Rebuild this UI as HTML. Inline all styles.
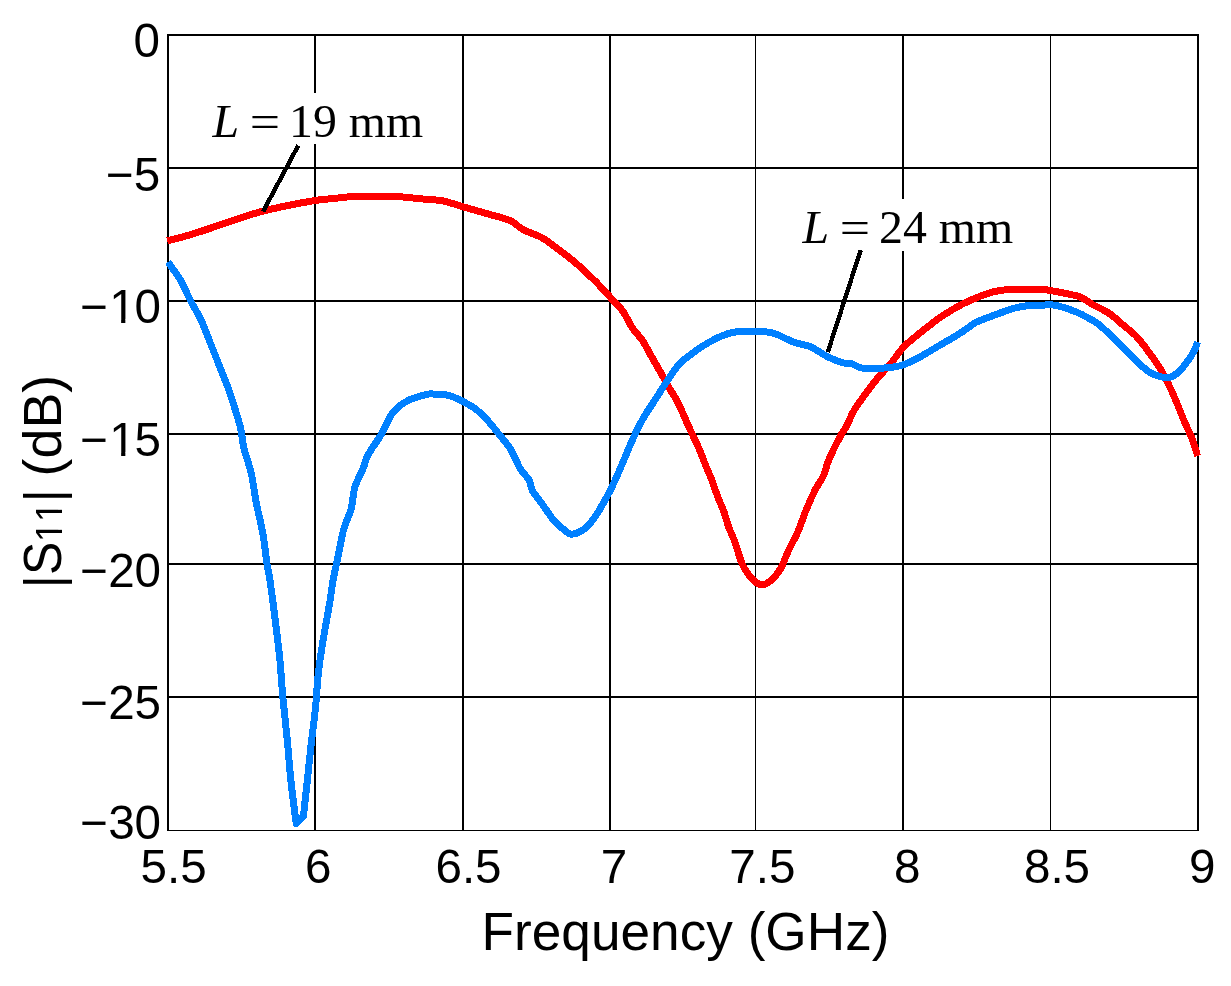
<!DOCTYPE html>
<html><head><meta charset="utf-8"><title>S11 vs Frequency</title>
<style>
html,body{margin:0;padding:0;background:#fff;}
body{width:1231px;height:986px;overflow:hidden;}
svg{display:block}
.tk{font-kerning:none;font-family:"Liberation Sans",sans-serif;font-size:47.6px;fill:#000}
.ax{font-kerning:none;font-family:"Liberation Sans",sans-serif;font-size:53.8px;fill:#000}
.lb{font-family:"Liberation Serif",serif;font-size:46px;fill:#000}
</style></head><body>
<svg width="1231" height="986" viewBox="0 0 1231 986">
<rect width="1231" height="986" fill="#fff"/>
<g fill="#000" shape-rendering="crispEdges">
<rect x="167" y="34" width="2" height="797"/>
<rect x="314" y="34" width="2" height="797"/>
<rect x="462" y="34" width="2" height="797"/>
<rect x="609" y="34" width="2" height="797"/>
<rect x="755" y="34" width="1" height="797"/>
<rect x="902" y="34" width="2" height="797"/>
<rect x="1050" y="34" width="1" height="797"/>
<rect x="1197" y="34" width="2" height="797"/>
<rect x="167" y="34" width="1032" height="2"/>
<rect x="167" y="167" width="1032" height="2"/>
<rect x="167" y="300" width="1032" height="2"/>
<rect x="167" y="433" width="1032" height="2"/>
<rect x="167" y="563" width="1032" height="2"/>
<rect x="167" y="696" width="1032" height="2"/>
<rect x="167" y="830" width="1032" height="1"/>
</g>
<rect x="205" y="93" width="225" height="51" fill="#fff"/>
<rect x="795" y="199" width="225" height="52" fill="#fff"/>
<g fill="none" stroke-linejoin="round" stroke-linecap="butt" stroke-width="7" shape-rendering="crispEdges">
<path stroke="#ff0000" d="M167.3,240.9C171.0,239.9 181.1,237.5 189.2,235.1C197.3,232.7 207.1,229.3 216.0,226.3C224.9,223.3 235.2,219.8 242.9,217.3C250.6,214.8 255.1,213.1 262.4,211.2C269.7,209.3 277.9,207.6 286.7,205.8C295.5,204.0 306.9,201.8 315.0,200.5C323.1,199.2 328.8,199.0 335.5,198.3C342.2,197.6 348.4,196.7 355.0,196.3C361.6,195.9 368.5,196.1 375.0,196.1C381.5,196.1 386.0,195.8 394.0,196.3C402.0,196.8 415.1,198.2 423.2,199.0C431.3,199.8 436.0,199.6 442.7,200.9C449.4,202.2 455.5,204.6 463.2,206.8C470.9,209.0 480.8,211.8 488.7,214.1C496.6,216.4 505.0,218.3 510.7,220.9C516.4,223.5 517.6,226.7 522.9,229.5C528.2,232.3 536.3,234.6 542.4,238.0C548.5,241.4 553.7,245.9 559.4,250.2C565.1,254.5 570.4,258.3 576.5,263.6C582.6,268.9 590.3,276.2 596.0,281.9C601.7,287.6 606.1,292.8 610.6,297.7C615.1,302.6 619.1,306.0 622.8,311.1C626.4,316.2 629.2,323.3 632.5,328.2C635.8,333.1 639.0,335.4 642.3,340.3C645.5,345.2 648.8,351.7 652.0,357.4C655.2,363.1 658.9,369.4 661.8,374.5C664.6,379.6 666.5,383.3 669.1,387.9C671.7,392.5 674.4,395.5 677.6,401.9C680.9,408.3 685.2,418.8 688.6,426.3C692.0,433.8 695.5,440.5 698.3,447.0C701.1,453.5 703.4,459.8 705.6,465.3C707.8,470.8 709.7,474.6 711.7,479.9C713.7,485.2 715.8,491.7 717.8,497.0C719.8,502.3 722.1,506.5 723.9,511.6C725.7,516.7 727.0,522.5 728.8,527.4C730.6,532.3 732.4,535.3 734.6,541.3C736.8,547.3 739.5,557.6 741.9,563.3C744.3,569.0 746.8,572.2 749.2,575.5C751.7,578.8 754.2,581.3 756.6,582.8C759.0,584.3 761.3,585.1 763.9,584.5C766.5,583.9 769.6,581.8 772.4,579.1C775.2,576.4 778.3,572.9 780.9,568.2C783.5,563.5 785.4,557.2 788.2,551.1C791.1,545.0 795.1,538.1 798.0,531.6C800.9,525.1 802.5,519.0 805.3,512.1C808.1,505.2 812.0,496.3 815.0,490.2C818.0,484.1 821.4,480.4 823.6,475.5C825.8,470.6 825.8,467.1 828.4,460.9C831.0,454.6 836.3,443.9 839.4,438.0C842.5,432.1 844.3,430.3 846.7,425.7C849.1,421.1 850.8,415.9 854.0,410.5C857.2,405.1 862.1,398.6 866.2,393.0C870.3,387.4 874.3,382.1 878.4,377.2C882.5,372.3 886.5,368.7 890.6,363.8C894.7,358.9 898.7,352.4 902.8,347.9C906.9,343.4 910.9,340.4 915.0,337.0C919.1,333.6 922.7,330.6 927.2,327.2C931.7,323.8 936.5,319.8 941.8,316.3C947.1,312.8 953.1,309.1 958.8,306.0C964.5,302.9 970.2,300.4 975.9,298.0C981.6,295.6 987.5,293.3 993.0,291.9C998.5,290.5 1003.5,289.9 1009.0,289.5C1014.5,289.1 1020.3,289.3 1026.0,289.3C1031.7,289.3 1037.8,289.1 1043.1,289.5C1048.4,289.9 1051.6,290.7 1057.7,291.9C1063.8,293.1 1074.0,294.8 1079.7,296.8C1085.4,298.8 1088.4,302.2 1091.8,304.1C1095.2,306.0 1096.8,306.4 1100.0,308.2C1103.2,309.9 1107.0,311.7 1110.9,314.6C1114.9,317.5 1119.4,321.9 1123.7,325.5C1128.0,329.1 1132.5,332.4 1136.5,336.5C1140.5,340.6 1143.8,345.3 1147.4,350.2C1151.1,355.1 1155.1,360.4 1158.4,365.7C1161.8,371.0 1164.5,376.0 1167.5,382.1C1170.5,388.2 1173.9,395.8 1176.6,402.2C1179.3,408.6 1181.3,414.3 1183.9,420.4C1186.5,426.5 1189.8,432.8 1192.1,438.7C1194.4,444.6 1196.7,453.1 1197.6,456.0"/>
<path stroke="#0080ff" d="M168.0,261.9C170.1,265.0 176.9,274.2 180.7,280.6C184.4,287.1 187.1,293.9 190.5,300.6C193.9,307.3 198.0,313.4 201.4,320.8C204.8,328.2 207.9,337.1 211.2,345.2C214.4,353.3 218.0,362.1 220.9,369.6C223.8,377.1 225.6,380.5 228.8,390.0C232.0,399.5 237.7,416.9 240.2,426.6C242.7,436.4 242.1,440.8 243.9,448.5C245.7,456.2 249.2,464.0 251.2,472.9C253.2,481.8 254.2,492.0 256.1,502.1C258.1,512.2 261.1,523.5 262.9,533.8C264.7,544.1 265.8,556.1 267.0,563.8C268.2,571.5 268.5,570.5 269.9,580.0C271.3,589.5 273.6,607.0 275.3,620.5C277.0,634.0 278.8,648.4 280.0,661.1C281.2,673.9 281.6,683.5 282.8,697.0C284.1,710.5 286.2,728.4 287.5,742.2C288.8,756.0 289.4,766.2 290.8,779.7C292.2,793.2 296.2,823.5 296.2,823.5C296.2,823.5 303.4,816.5 303.4,816.5C303.4,816.5 306.4,788.7 307.4,779.7C308.4,770.7 308.5,768.6 309.2,762.4C309.9,756.1 310.6,749.0 311.4,742.2C312.2,735.5 313.0,729.4 313.9,721.9C314.8,714.4 315.9,703.8 316.5,697.0C317.1,690.2 316.9,687.4 317.5,681.4C318.1,675.4 319.0,667.9 319.9,661.1C320.8,654.3 321.9,647.6 323.0,640.8C324.1,634.0 325.4,627.2 326.6,620.5C327.8,613.8 329.0,607.0 330.1,600.3C331.2,593.5 332.0,586.1 333.1,580.0C334.2,573.9 334.7,572.3 336.5,563.8C338.3,555.3 341.4,538.0 343.8,528.9C346.2,519.8 349.3,516.3 351.1,509.4C352.9,502.5 352.8,494.4 354.8,487.5C356.8,480.6 361.1,473.5 363.3,468.0C365.5,462.5 365.1,460.3 368.2,454.6C371.2,448.9 377.6,440.8 381.6,433.9C385.7,427.0 388.2,418.7 392.5,413.2C396.8,407.7 401.5,404.1 407.2,401.0C412.9,397.9 422.0,395.5 426.7,394.4C431.4,393.3 432.4,394.2 435.2,394.2C438.0,394.2 440.5,393.8 443.7,394.4C446.9,394.9 449.5,395.2 454.6,397.5C459.7,399.8 468.8,404.4 474.1,408.0C479.4,411.6 482.2,414.7 486.3,419.0C490.4,423.3 494.4,428.5 498.5,433.6C502.6,438.7 507.1,443.6 510.7,449.5C514.4,455.4 517.4,463.9 520.4,469.0C523.4,474.1 527.0,476.2 529.0,479.9C531.0,483.5 530.4,486.8 532.6,490.9C534.8,495.0 538.8,499.2 542.4,504.3C546.0,509.4 550.9,517.0 554.5,521.3C558.1,525.6 561.6,527.8 564.3,529.9C566.9,532.0 568.0,533.6 570.4,534.0C572.8,534.4 575.8,533.8 578.9,532.3C582.0,530.8 585.5,528.5 588.7,525.0C592.0,521.5 594.8,517.5 598.4,511.6C602.0,505.7 606.7,497.4 610.6,489.7C614.5,482.0 618.0,473.6 621.6,465.3C625.2,457.0 628.9,447.6 632.5,439.7C636.1,431.8 639.8,424.3 643.5,417.8C647.2,411.3 650.6,406.7 654.5,400.7C658.4,394.7 662.6,387.8 666.6,381.8C670.6,375.8 674.3,369.6 678.8,364.7C683.3,359.8 688.5,356.1 693.4,352.5C698.3,348.9 703.2,345.6 708.1,342.8C713.0,340.0 718.3,337.3 722.7,335.5C727.1,333.7 730.2,332.8 734.6,332.1C739.0,331.5 744.1,331.7 749.0,331.6C753.9,331.5 759.4,331.2 763.9,331.6C768.4,332.0 771.2,332.4 776.1,334.1C781.0,335.8 787.4,339.8 793.1,341.9C798.8,344.0 804.5,344.3 810.2,346.7C815.9,349.1 821.9,353.9 827.2,356.5C832.5,359.1 837.8,361.4 841.9,362.6C846.0,363.8 848.4,362.9 851.6,363.8C854.9,364.7 857.8,367.2 861.4,367.9C865.0,368.6 869.5,368.1 873.5,368.1C877.5,368.1 881.2,368.3 885.7,367.9C890.2,367.5 895.9,366.9 900.4,365.7C904.9,364.5 908.0,363.0 912.5,360.9C917.0,358.8 922.7,355.4 927.2,352.8C931.7,350.2 934.9,348.1 939.4,345.5C943.9,342.9 950.0,339.4 954.0,337.0C958.0,334.6 960.1,333.3 963.7,330.9C967.4,328.5 971.8,324.6 975.9,322.4C980.0,320.2 983.6,319.2 988.1,317.5C992.6,315.8 998.0,313.7 1002.7,312.1C1007.4,310.5 1011.6,308.8 1016.3,307.7C1021.0,306.6 1026.5,305.7 1030.9,305.3C1035.4,304.9 1038.9,305.1 1043.0,305.1C1047.1,305.1 1050.0,304.2 1055.3,305.3C1060.6,306.4 1068.7,309.0 1074.8,311.4C1080.9,313.8 1087.6,317.5 1091.8,319.9C1096.0,322.2 1096.8,322.9 1100.0,325.5C1103.2,328.1 1107.0,331.8 1110.9,335.6C1114.9,339.4 1119.4,344.1 1123.7,348.3C1128.0,352.6 1132.2,357.1 1136.5,361.1C1140.8,365.1 1145.3,369.5 1149.3,372.1C1153.2,374.7 1156.9,375.7 1160.2,376.6C1163.5,377.5 1166.2,378.2 1169.3,377.5C1172.3,376.8 1175.5,374.8 1178.5,372.1C1181.5,369.4 1185.0,364.6 1187.6,361.1C1190.2,357.6 1192.3,354.3 1194.0,351.1C1195.7,347.9 1197.0,343.5 1197.6,342.0"/>
</g>
<g stroke="#000" stroke-width="4.4" stroke-linecap="butt" shape-rendering="crispEdges">
<line x1="298.3" y1="145.4" x2="263" y2="211.6"/>
<line x1="860.7" y1="250" x2="827.8" y2="352"/>
</g>
<text class="lb" transform="translate(211,137) scale(1.04,1)"><tspan font-style="italic" x="1.44">L</tspan> <tspan x="37.31" textLength="29.19" lengthAdjust="spacingAndGlyphs">=</tspan> <tspan x="75.10">19 mm</tspan></text>
<text class="lb" transform="translate(801,243) scale(1.04,1)"><tspan font-style="italic" x="1.44">L</tspan> <tspan x="37.31" textLength="29.19" lengthAdjust="spacingAndGlyphs">=</tspan> <tspan x="75.10">24 mm</tspan></text>
<text class="tk" text-anchor="end" x="160.1" y="57.1">0</text>
<text class="tk" text-anchor="end" x="160.2" y="190.6">−5</text>
<text class="tk" text-anchor="end" x="161.1" y="323.1">−<tspan dx="1">1</tspan><tspan dx="-1">0</tspan></text>
<text class="tk" text-anchor="end" x="161.1" y="456.1">−<tspan dx="1">1</tspan><tspan dx="-1">5</tspan></text>
<text class="tk" text-anchor="end" x="161.1" y="586.8">−20</text>
<text class="tk" text-anchor="end" x="161.1" y="719.1">−25</text>
<text class="tk" text-anchor="end" x="161.1" y="838.7">−30</text>
<text class="tk" text-anchor="middle" x="173.7" y="882.8">5.5</text>
<text class="tk" text-anchor="middle" x="318.3" y="882.8">6</text>
<text class="tk" text-anchor="middle" x="468.5" y="882.8">6.5</text>
<text class="tk" text-anchor="middle" x="614" y="882.8">7</text>
<text class="tk" text-anchor="middle" x="762.4" y="882.8">7.5</text>
<text class="tk" text-anchor="middle" x="907.2" y="882.8">8</text>
<text class="tk" text-anchor="middle" x="1057.0" y="882.8">8.5</text>
<text class="tk" text-anchor="middle" x="1202.2" y="882.8">9</text>
<text class="ax" transform="translate(481.5,949.5) scale(0.989,1)">Frequency (GHz)</text>
<text class="ax" transform="translate(60.8,588.6) rotate(-90)"><tspan x="0" y="0" font-size="52px">|</tspan><tspan x="13.55" y="0" textLength="33.37" lengthAdjust="spacingAndGlyphs">S</tspan><tspan x="46.54" y="1.1" font-size="36px">11</tspan><tspan x="86.1" y="0" font-size="52px">| </tspan><tspan x="112.2" y="0">(dB)</tspan></text>
<g fill="#fff"><rect x="58.61" y="533.01" width="4.09" height="7.31"/><rect x="58.61" y="522.80" width="4.09" height="7.03"/><rect x="58.61" y="512.99" width="4.09" height="7.31"/><rect x="58.61" y="502.78" width="4.09" height="7.03"/></g>
<g fill="#fff"><rect x="111.80" y="318.94" width="9.34" height="4.96"/><rect x="125.34" y="318.94" width="8.97" height="4.96"/><rect x="111.80" y="451.94" width="9.34" height="4.96"/><rect x="125.34" y="451.94" width="8.97" height="4.96"/></g>
</svg>
</body></html>
